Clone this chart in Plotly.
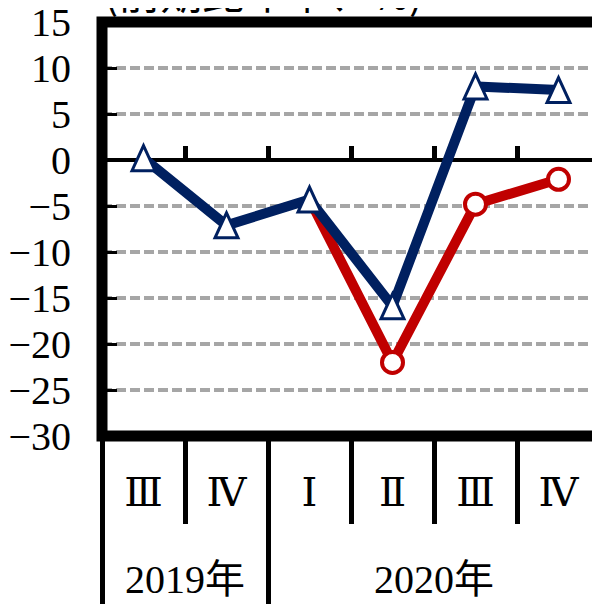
import plotly.graph_objects as go

# ---- data ----
periods = ["2019Q3", "2019Q4", "2020Q1", "2020Q2", "2020Q3", "2020Q4"]
quarter_labels = ["Ⅲ", "Ⅳ", "Ⅰ", "Ⅱ", "Ⅲ", "Ⅳ"]
year_labels = ["2019年", "2020年"]
year_counts = [2, 4]
blue_values = [0.2, -7.1, -4.3, -15.9, 8.0, 7.6]
red_values = [None, None, -4.3, -22.0, -4.8, -2.1]
y_tick_values = [15, 10, 5, 0, -5, -10, -15, -20, -25, -30]
title_text = "(前期比年率、%)"

# ---- style ----
NAVY = "#002060"
RED = "#C00000"
GRID = "#A6A6A6"
SERIF = "Liberation Serif, DejaVu Serif, Noto Sans CJK JP, serif"
CJK = "Noto Sans CJK JP, sans-serif"

n = len(periods)
idx = list(range(n))
xr = [-0.5, n - 0.5]
ymin, ymax = min(y_tick_values), max(y_tick_values)

inner_bounds = [i + 0.5 for i in idx[:-1]]
year_centers, year_bounds = [], [-0.5]
start = 0
for c in year_counts:
    year_centers.append(start + (c - 1) / 2)
    start += c
    year_bounds.append(start - 0.5)

fig = go.Figure()

# red series (line), then red circle markers
fig.add_trace(go.Scatter(
    x=periods, y=red_values, mode="lines",
    line=dict(color=RED, width=10), hoverinfo="skip"))
fig.add_trace(go.Scatter(
    x=periods, y=red_values, mode="markers",
    marker=dict(symbol="circle", size=21, color="white",
                opacity=[0 if (i == 0 or red_values[i - 1] is None) else 1
                         for i in idx],
                line=dict(color=RED, width=4)),
    hoverinfo="skip"))
# blue series line
fig.add_trace(go.Scatter(
    x=periods, y=blue_values, mode="lines",
    line=dict(color=NAVY, width=10), hoverinfo="skip"))

# invisible helper traces so the overlay axes (labels / dividers) are drawn
for ax in ["x2", "x3", "x4", "x5"]:
    fig.add_trace(go.Scatter(
        x=idx, y=[None] * n, mode="lines", xaxis=ax, yaxis="y",
        showlegend=False, hoverinfo="skip"))

shapes = []
# triangle markers for blue series (pixel-sized, anchored at data points)
tri_path = "M-11.5,-12.5 L11.5,-12.5 L0,12.5 Z"
for p, v in zip(periods, blue_values):
    shapes.append(dict(
        type="path", xref="x", yref="y",
        xsizemode="pixel", ysizemode="pixel",
        xanchor=p, yanchor=v, path=tri_path,
        fillcolor="white", line=dict(color=NAVY, width=3), layer="above"))
# plot area border
shapes.append(dict(type="rect", xref="paper", yref="paper",
                   x0=0, x1=1, y0=0, y1=1,
                   line=dict(color="black", width=11), layer="above"))

zero_pos = (0 - ymin) / (ymax - ymin)

common = dict(showgrid=False, zeroline=False, showline=False,
              automargin=False, range=xr)

fig.update_layout(
    width=600, height=604,
    margin=dict(l=94, r=8, t=14, b=176, autoexpand=False),
    paper_bgcolor="white", plot_bgcolor="white",
    showlegend=False,
    shapes=shapes,
    xaxis=dict(
        type="category", categoryorder="array", categoryarray=periods,
        showticklabels=False,
        ticks="outside", tickson="boundaries", ticklen=87,
        tickwidth=4.5, tickcolor="black", **common),
    xaxis2=dict(
        overlaying="x", anchor="y", side="bottom",
        tickmode="array", tickvals=idx, ticktext=quarter_labels,
        ticks="",
        tickfont=dict(family=SERIF, size=40, color="black"),
        ticklabelstandoff=29, **common),
    xaxis3=dict(
        overlaying="x", anchor="y", side="bottom",
        tickmode="array", tickvals=year_centers, ticktext=year_labels,
        ticks="",
        tickfont=dict(family=SERIF, size=40, color="black"),
        ticklabelstandoff=116, **common),
    xaxis4=dict(
        overlaying="x", anchor="y", side="bottom",
        tickmode="array", tickvals=year_bounds, showticklabels=False,
        ticks="outside", ticklen=175, tickwidth=4.5, tickcolor="black",
        **common),
    xaxis5=dict(
        overlaying="x", anchor="free", position=zero_pos, side="top",
        tickmode="array", tickvals=inner_bounds,
        showticklabels=False, ticks="outside", ticklen=14, tickwidth=4.5,
        tickcolor="black", **common),
    yaxis=dict(
        range=[ymin, ymax], tickmode="array", tickvals=y_tick_values,
        ticks="inside", ticklen=15, tickwidth=3, tickcolor="black",
        showgrid=True, gridcolor=GRID, gridwidth=3.5, griddash="10px,4px",
        zeroline=True, zerolinecolor="black", zerolinewidth=4,
        showline=False, automargin=False, ticklabeloverflow="allow",
        tickfont=dict(family=SERIF, size=40, color="black"),
        ticklabelstandoff=30),
    annotations=[dict(
        text=title_text, xref="paper", yref="paper", x=0, y=1,
        xanchor="left", yanchor="bottom", xshift=0, yshift=-1,
        showarrow=False, font=dict(family=CJK, size=42, color="black"))],
)

fig.write_html("out.html")
